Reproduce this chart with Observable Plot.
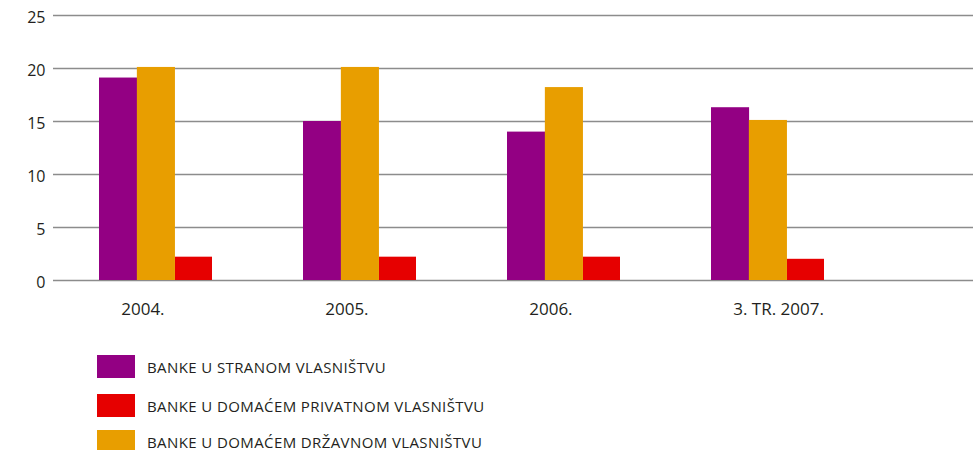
<!DOCTYPE html>
<html>
<head>
<meta charset="utf-8">
<script src="https://cdn.jsdelivr.net/npm/d3@7"></script>
<script src="https://cdn.jsdelivr.net/npm/@observablehq/plot@0.6"></script>
<style>
  html, body { margin: 0; padding: 0; background: #fff; }
  #wrap { position: relative; width: 973px; height: 450px; overflow: hidden; font-family: "Open Sans", sans-serif; color: #231f20; }
  #chart { position: absolute; left: 0; top: 0; }
  .lg { position: absolute; left: 97px; display: flex; align-items: center; }
  .sw { width: 38px; height: 23px; margin-right: 12px; }
  .lt { font-size: 15px; letter-spacing: 0.4px; white-space: nowrap; }
</style>
</head>
<body>
<div id="wrap">
  <div id="chart"></div>
  <div id="legend"></div>
</div>
<script>
// ---- data ----
const categories = ["2004.", "2005.", "2006.", "3. TR. 2007."];
const seriesNames = [
  "BANKE U STRANOM VLASNIŠTVU",
  "BANKE U DOMAĆEM PRIVATNOM VLASNIŠTVU",
  "BANKE U DOMAĆEM DRŽAVNOM VLASNIŠTVU"
];
const seriesColors = ["#930083", "#e60000", "#e89e00"];
const straniValues   = [19.1, 15.0, 14.0, 16.3];
const privatniValues = [2.2, 2.2, 2.2, 2.0];
const drzavniValues  = [20.1, 20.1, 18.2, 15.1];
const yTicks = [0, 5, 10, 15, 20, 25];
// slot of each series within a group: foreign (0), private (2), state (1)
const seriesSlot = [0, 2, 1];

const valuesBySeries = [straniValues, privatniValues, drzavniValues];

const xScale = {domain: categories, paddingInner: 0.444, paddingOuter: 0.474, align: 0.2375};
const bandwidth = (973 - 53) / (categories.length - xScale.paddingInner + 2 * xScale.paddingOuter) * (1 - xScale.paddingInner);
const sub = bandwidth / 3;

const barMarks = seriesNames.map((s, j) => {
  const rows = categories.map((c, i) => ({cat: c, series: s, value: valuesBySeries[j][i]}));
  const slot = seriesSlot[j];
  return Plot.barY(rows, {
    x: "cat", y: "value", fill: "series",
    insetLeft: slot * sub, insetRight: Math.max(0, (2 - slot) * sub - 0.8)
  });
});

const chart = Plot.plot({
  width: 973,
  height: 330,
  marginTop: 15,
  marginBottom: 50,
  marginLeft: 53,
  marginRight: 0,
  style: {fontFamily: "Open Sans", fontSize: "16px", color: "#231f20", background: "transparent", overflow: "visible"},
  x: {...xScale, axis: null},
  y: {domain: [0, 25], axis: null},
  color: {domain: seriesNames, range: seriesColors},
  marks: [
    Plot.ruleY(yTicks, {stroke: "#8c8c8c", strokeWidth: 1.5}),
    Plot.axisY(yTicks, {anchor: "left", tickSize: 0, tickPadding: 8, label: null, fontSize: 16, dy: 2}),
    ...barMarks,
    Plot.axisX({tickSize: 0, tickPadding: 22, textAnchor: "start", dx: -bandwidth / 2 + 22, fontSize: 17, label: null})
  ]
});
document.getElementById("chart").appendChild(chart);

// ---- legend (HTML, below SVG) ----
const legendTops = [355, 394, 430];
const legend = document.getElementById("legend");
seriesNames.forEach((s, i) => {
  const item = document.createElement("div");
  item.className = "lg";
  item.style.top = legendTops[i] + "px";
  const sw = document.createElement("div");
  sw.className = "sw";
  sw.style.background = seriesColors[i];
  const t = document.createElement("span");
  t.className = "lt";
  t.textContent = s;
  item.appendChild(sw);
  item.appendChild(t);
  legend.appendChild(item);
});
</script>
</body>
</html>
